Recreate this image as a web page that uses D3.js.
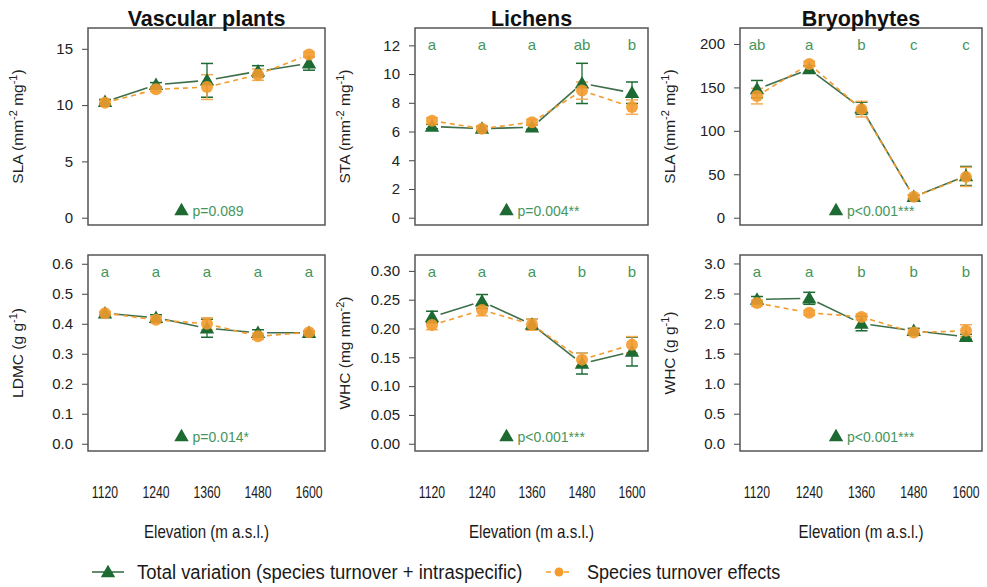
<!DOCTYPE html>
<html><head><meta charset="utf-8">
<script src="https://cdn.jsdelivr.net/npm/d3@7"></script>
<style>body{margin:0;background:#fff} svg{display:block}</style>
</head><body>
<svg id="chart" width="987" height="587"></svg>
<script>
// Elevation steps along the gradient (m a.s.l.)
const elevations = [1120, 1240, 1360, 1480, 1600];
const groupTitles = ["Vascular plants", "Lichens", "Bryophytes"];

// Vascular plants: SLA
const vascSLATotal = [10.3, 11.8, 12.2, 13.0, 13.7];
const vascSLATotalSE = [0.2, 0.2, 1.5, 0.5, 0.6];
const vascSLATurn = [10.2, 11.4, 11.6, 12.7, 14.5];
const vascSLATurnSE = [0.2, 0.2, 1.1, 0.5, 0.2];
// Lichens: STA
const lichSTATotal = [6.35, 6.2, 6.3, 9.35, 8.7];
const lichSTATotalSE = [0.15, 0.15, 0.15, 1.4, 0.75];
const lichSTATurn = [6.75, 6.2, 6.65, 8.85, 7.7];
const lichSTATurnSE = [0.2, 0.2, 0.2, 0.6, 0.5];
// Bryophytes: SLA
const bryoSLATotal = [148, 171, 126, 24, 48];
const bryoSLATotalSE = [10, 4, 7, 2, 11];
const bryoSLATurn = [140, 177, 125, 24, 47];
const bryoSLATurnSE = [9, 3, 9, 2, 11];
// Vascular plants: LDMC
const vascLDMCTotal = [0.435, 0.42, 0.385, 0.37, 0.37];
const vascLDMCTotalSE = [0.005, 0.01, 0.03, 0.01, 0.005];
const vascLDMCTurn = [0.435, 0.413, 0.40, 0.358, 0.372];
const vascLDMCTurnSE = [0.005, 0.01, 0.02, 0.01, 0.005];
// Lichens: WHC
const lichWHCTotal = [0.220, 0.247, 0.207, 0.139, 0.160];
const lichWHCTotalSE = [0.01, 0.012, 0.01, 0.018, 0.025];
const lichWHCTurn = [0.206, 0.232, 0.207, 0.146, 0.172];
const lichWHCTurnSE = [0.008, 0.01, 0.01, 0.011, 0.014];
// Bryophytes: WHC
const bryoWHCTotal = [2.40, 2.42, 2.00, 1.88, 1.78];
const bryoWHCTotalSE = [0.05, 0.1, 0.12, 0.04, 0.04];
const bryoWHCTurn = [2.34, 2.18, 2.11, 1.85, 1.88];
const bryoWHCTurnSE = [0.05, 0.04, 0.05, 0.04, 0.1];

// Post-hoc group letters
const lichSTALetters = ["a", "a", "a", "ab", "b"];
const bryoSLALetters = ["ab", "a", "b", "c", "c"];
const vascLDMCLetters = ["a", "a", "a", "a", "a"];
const lichWHCLetters = ["a", "a", "a", "b", "b"];
const bryoWHCLetters = ["a", "a", "b", "b", "b"];

// Axis ticks and test results
const vascSLATicks = [0, 5, 10, 15];
const lichSTATicks = [0, 2, 4, 6, 8, 10, 12];
const bryoSLATicks = [0, 50, 100, 150, 200];
const vascLDMCTicks = [0, 0.1, 0.2, 0.3, 0.4, 0.5, 0.6];
const lichWHCTicks = [0, 0.05, 0.10, 0.15, 0.20, 0.25, 0.30];
const bryoWHCTicks = [0, 0.5, 1.0, 1.5, 2.0, 2.5, 3.0];
const pValues = ["p=0.089", "p=0.004**", "p<0.001***", "p=0.014*", "p<0.001***", "p<0.001***"];
const legendLabels = ["Total variation (species turnover + intraspecific)", "Species turnover effects"];

const panels = [
  {row: 0, col: 0, tot: vascSLATotal, totSE: vascSLATotalSE, trn: vascSLATurn, trnSE: vascSLATurnSE, ylim: [0, 16.2], ticks: vascSLATicks, fmt: d3.format("d"), lab: ["SLA (mm", "-2", " mg", "-1", ")"], letters: null},
  {row: 0, col: 1, tot: lichSTATotal, totSE: lichSTATotalSE, trn: lichSTATurn, trnSE: lichSTATurnSE, ylim: [0, 12.7], ticks: lichSTATicks, fmt: d3.format("d"), lab: ["STA (mm", "-2", " mg", "-1", ")"], letters: lichSTALetters},
  {row: 0, col: 2, tot: bryoSLATotal, totSE: bryoSLATotalSE, trn: bryoSLATurn, trnSE: bryoSLATurnSE, ylim: [0, 210], ticks: bryoSLATicks, fmt: d3.format("d"), lab: ["SLA (mm", "-2", " mg", "-1", ")"], letters: bryoSLALetters},
  {row: 1, col: 0, tot: vascLDMCTotal, totSE: vascLDMCTotalSE, trn: vascLDMCTurn, trnSE: vascLDMCTurnSE, ylim: [0, 0.605], ticks: vascLDMCTicks, fmt: d3.format(".1f"), lab: ["LDMC (g g", "-1", ")"], letters: vascLDMCLetters},
  {row: 1, col: 1, tot: lichWHCTotal, totSE: lichWHCTotalSE, trn: lichWHCTurn, trnSE: lichWHCTurnSE, ylim: [0, 0.315], ticks: lichWHCTicks, fmt: d3.format(".2f"), lab: ["WHC (mg mm", "-2", ")"], letters: lichWHCLetters},
  {row: 1, col: 2, tot: bryoWHCTotal, totSE: bryoWHCTotalSE, trn: bryoWHCTurn, trnSE: bryoWHCTurnSE, ylim: [0, 3.02], ticks: bryoWHCTicks, fmt: d3.format(".1f"), lab: ["WHC (g g", "-1", ")"], letters: bryoWHCLetters}
];

const colLeft = [88, 415, 740], colRight = [325, 648, 982];
const rowTop = [28, 255], rowBottom = [225, 451];

const GREEN = "#1d6a33", GREEN_LINE = "#3f6f4a", GREEN_TXT = "#46955c";
const ORANGE = "#f39b2d", ORANGE_ERR = "#f2ac55";
const SANS = "'Liberation Sans', Arial, sans-serif";

const svg = d3.select("#chart");
const tri = d3.symbol().type(d3.symbolTriangle).size(90);

// Condensed text: regular sans squeezed horizontally
function narrowText(sel, x, y, size, squeeze) {
  return sel.append("text").attr("transform", `translate(${x},${y}) scale(${squeeze},1)`)
    .attr("font-family", SANS).attr("font-size", size).attr("fill", "#1a1a1a");
}

// Lines drawn "type b": segments stop short of the markers
function gappedSegments(pts, gap) {
  const segs = [];
  for (let i = 0; i < pts.length - 1; i++) {
    const [x1, y1] = pts[i], [x2, y2] = pts[i + 1];
    const dx = x2 - x1, dy = y2 - y1, len = Math.hypot(dx, dy);
    if (len <= 2 * gap) continue;
    const ux = dx / len, uy = dy / len;
    segs.push([x1 + ux * gap, y1 + uy * gap, x2 - ux * gap, y2 - uy * gap]);
  }
  return segs;
}

panels.forEach((p, i) => {
  const L = colLeft[p.col], R = colRight[p.col], T = rowTop[p.row], B = rowBottom[p.row];
  const span = p.ylim[1] - p.ylim[0];
  const y = d3.scaleLinear().domain([p.ylim[0] - 0.04 * span, p.ylim[1] + 0.04 * span]).range([B, T]);
  const x = d3.scalePoint().domain(elevations).range([L + 17, R - 16]);
  const g = svg.append("g");

  // y axis with ticks outside the frame
  const ax = g.append("g").attr("transform", `translate(${L},0)`)
    .call(d3.axisLeft(y).tickValues(p.ticks).tickFormat(p.fmt).tickSize(6).tickPadding(9));
  ax.select(".domain").remove();
  ax.selectAll("line").attr("stroke", "#444");
  ax.selectAll("text").attr("font-family", SANS).attr("font-size", 15).attr("fill", "#222");

  // y label
  const lt = g.append("text")
    .attr("transform", `translate(${L - 65},${(T + B) / 2}) rotate(-90)`)
    .attr("text-anchor", "middle").attr("font-family", SANS).attr("font-size", 15.5).attr("fill", "#222");
  p.lab.forEach((s, k) => {
    const ts = lt.append("tspan").text(s);
    if (k % 2 === 1) ts.attr("font-size", 11).attr("dy", -6);
    else if (k > 0) ts.attr("dy", 6);
  });

  // frame
  g.append("rect").attr("x", L).attr("y", T).attr("width", R - L).attr("height", B - T)
    .attr("fill", "none").attr("stroke", "#555").attr("stroke-width", 1.5);

  // group letters
  if (p.letters) {
    g.selectAll(".let").data(p.letters).join("text")
      .attr("x", (d, k) => x(elevations[k])).attr("y", T + 22)
      .attr("text-anchor", "middle").attr("font-family", SANS).attr("font-size", 15)
      .attr("fill", GREEN_TXT).text(d => d);
  }

  // test result
  const pg = g.append("g").attr("transform", `translate(${(L + R) / 2 + 4},${B - 14})`);
  pg.append("path").attr("d", tri).attr("transform", "translate(-29,0)").attr("fill", GREEN);
  pg.append("text").attr("x", -18).attr("y", 5).attr("font-family", SANS).attr("font-size", 14)
    .attr("fill", GREEN_TXT).text(pValues[i]);

  const series = [
    {m: p.tot, se: p.totSE, color: GREEN_LINE, err: GREEN, dash: null, kind: "tri"},
    {m: p.trn, se: p.trnSE, color: ORANGE, err: ORANGE_ERR, dash: "5,4", kind: "circ"}
  ];
  series.forEach(s => {
    const pts = s.m.map((v, k) => [x(elevations[k]), y(v)]);
    g.selectAll(null).data(gappedSegments(pts, 9)).join("line")
      .attr("x1", d => d[0]).attr("y1", d => d[1]).attr("x2", d => d[2]).attr("y2", d => d[3])
      .attr("stroke", s.color).attr("stroke-width", 1.6).attr("stroke-dasharray", s.dash);
    // error bars
    s.m.forEach((v, k) => {
      const cx = x(elevations[k]), y0 = y(v - s.se[k]), y1 = y(v + s.se[k]);
      g.append("line").attr("x1", cx).attr("x2", cx).attr("y1", y0).attr("y2", y1)
        .attr("stroke", s.err).attr("stroke-width", 1.3);
      [y0, y1].forEach(yy => g.append("line").attr("x1", cx - 6).attr("x2", cx + 6)
        .attr("y1", yy).attr("y2", yy).attr("stroke", s.err).attr("stroke-width", 1.5));
    });
  });
  series.forEach(s => {
    s.m.forEach((v, k) => {
      const cx = x(elevations[k]), cy = y(v);
      if (s.kind === "tri") {
        g.append("path").attr("d", tri).attr("transform", `translate(${cx},${cy + 1})`).attr("fill", GREEN);
      } else {
        g.append("circle").attr("cx", cx).attr("cy", cy).attr("r", 6).attr("fill", ORANGE).attr("fill-opacity", 0.9);
      }
    });
  });

  // titles on top row, elevation axis on bottom row
  if (p.row === 0) {
    svg.append("text").attr("x", (L + R) / 2).attr("y", 26).attr("text-anchor", "middle")
      .attr("font-family", SANS).attr("font-weight", "bold").attr("font-size", 21.5).attr("fill", "#111")
      .text(groupTitles[p.col]);
  } else {
    elevations.forEach(d => {
      narrowText(svg, x(d), 498, 17, 0.72).attr("text-anchor", "middle").text(d);
    });
    narrowText(svg, (L + R) / 2, 538, 18, 0.84).attr("text-anchor", "middle").text("Elevation (m a.s.l.)");
  }
});

// legend
const lg = svg.append("g").attr("transform", "translate(0,572)");
lg.append("line").attr("x1", 92).attr("x2", 124).attr("y1", 0).attr("y2", 0).attr("stroke", GREEN_LINE).attr("stroke-width", 1.6);
lg.append("path").attr("d", tri).attr("transform", "translate(108,1)").attr("fill", GREEN);
narrowText(lg, 137, 7, 21, 0.88).text(legendLabels[0]);
lg.append("line").attr("x1", 546).attr("x2", 573).attr("y1", 0).attr("y2", 0).attr("stroke", ORANGE).attr("stroke-width", 1.6).attr("stroke-dasharray", "5,4");
lg.append("circle").attr("cx", 559).attr("cy", 0).attr("r", 4.5).attr("fill", ORANGE);
narrowText(lg, 587, 7, 21, 0.86).text(legendLabels[1]);
</script>
</body></html>
